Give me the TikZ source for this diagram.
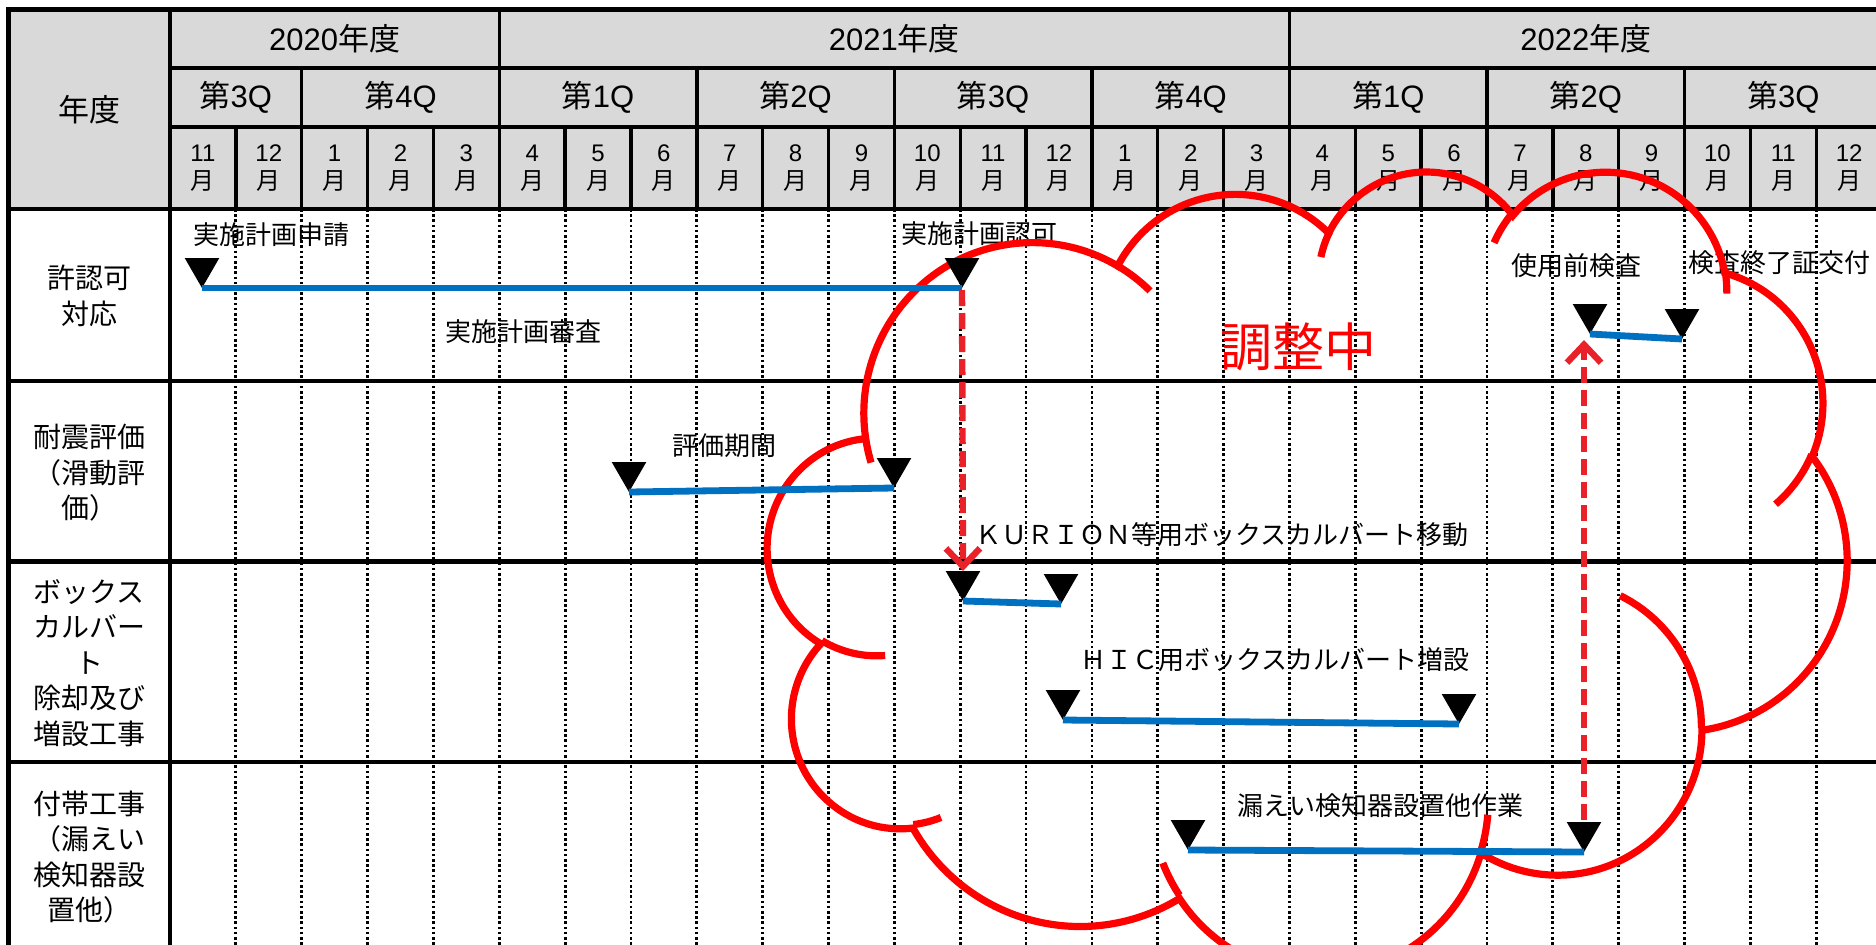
\documentclass[tikz,border=0pt]{standalone}
\usepackage{fontspec}
\setmainfont{Noto Sans CJK JP}
\newfontfamily\arialfont{Liberation Sans}
\usetikzlibrary{arrows.meta,shapes.geometric}
\definecolor{HeadGray}{RGB}{217,217,217}
\definecolor{BarBlue}{RGB}{0,112,192}
\definecolor{LinkRed}{RGB}{232,34,40}
\definecolor{CloudRed}{RGB}{255,0,0}

\begin{document}
\begin{tikzpicture}[x=0.5pt, y=-0.5pt,
    HeadStyle/.style = {font=\fontsize{15.5pt}{18pt}\selectfont, inner sep=0pt},
    MonthStyle/.style = {font=\fontsize{12pt}{14pt}\selectfont, align=center, inner sep=0pt},
    RowStyle/.style = {font=\fontsize{14pt}{17.8pt}\selectfont, align=center, inner sep=0pt},
    TaskStyle/.style = {font=\fontsize{13pt}{16pt}\selectfont, anchor=west, inner sep=0pt},
    MarkStyle/.style = {regular polygon, regular polygon sides=3, shape border rotate=180, fill=black, inner sep=0pt, outer sep=0pt, minimum size=20pt, anchor=corner 1},
    BarStyle/.style = {draw=BarBlue, line width=3.4pt},
    LinkStyle/.style = {draw=LinkRed, line width=3.2pt, dash pattern=on 8pt off 3.5pt},
    LinkTip/.style = {-{Straight Barb[length=9pt,width=17pt]}},
    GridStyle/.style = {line width=1.4pt, dash pattern=on 1.3pt off 1.3pt},
    RuleStyle/.style = {line width=2.2pt},
    HeadRule/.style = {line width=1.7pt},
    CloudStyle/.style = {draw=CloudRed, line width=3.6pt},
    CloudArc/.style n args={4}{/utils/exec={%
        \pgfmathsetmacro\CloudA{atan2((#1)*sin(#3),(#2)*cos(#3))}%
        \pgfmathsetmacro\CloudB{atan2((#1)*sin((#3)+(#4)),(#2)*cos((#3)+(#4)))}%
        \pgfmathsetmacro\CloudD{mod(\CloudB-\CloudA+720,360)}},
      start angle=\CloudA, delta angle=\CloudD, x radius=#1, y radius=#2}]
  \useasboundingbox (0,0) rectangle (1876,944);
  \clip (0,0) rectangle (1876,944);
  \fill[white] (0,0) rectangle (1876,944);
  \fill[HeadGray] (8.6,9.5) rectangle (1900,209);

  \foreach \k in {1,...,26}
    \draw[GridStyle] ({170+65.85*\k},209) -- ({170+65.85*\k},960);
  \foreach \k in {1,...,26}
    \draw[HeadRule] ({170+65.85*\k},127) -- ({170+65.85*\k},209);
  \foreach \k in {2,5,8,11,14,17,20,23}
    \draw[HeadRule] ({170+65.85*\k},68) -- ({170+65.85*\k},127);
  \foreach \k in {5,17}
    \draw[HeadRule] ({170+65.85*\k},9.5) -- ({170+65.85*\k},68);
  \draw[RuleStyle] (8.6,960) -- (8.6,9.5) -- (1900,9.5);
  \draw[RuleStyle] (170,9.5) -- (170,960);
  \draw[RuleStyle] (170,68) -- (1900,68) (170,127) -- (1900,127);
  \foreach \y in {209,381,561.5,762}
    \draw[RuleStyle] (8.6,\y) -- (1900,\y);

  \node[HeadStyle] (hNendo) at (89.3,110) {年度};
  \node[HeadStyle] (y2020) at (334.6,38.8) {{\arialfont 2020}年度};
  \node[HeadStyle] (y2021) at (894.4,38.8) {{\arialfont 2021}年度};
  \node[HeadStyle] (y2022) at (1585.8,38.8) {{\arialfont 2022}年度};
  \foreach \q/\c [count=\i] in {3/1,4/3.5,1/6.5,2/9.5,3/12.5,4/15.5,1/18.5,2/21.5,3/24.5}
    \node[HeadStyle] (q\i) at ({170+65.85*\c},97.5) {第{\arialfont\q Q}};
  \foreach \m [count=\i from 0] in {11,12,1,2,3,4,5,6,7,8,9,10,11,12,1,2,3,4,5,6,7,8,9,10,11,12}
    \node[MonthStyle] (m\i) at ({170+65.85*(\i+0.5)},168) {{\arialfont\m}\\月};

  \node[RowStyle] (rPermit) at (89.3,296) {許認可\\対応};
  \node[RowStyle] (rSeismic) at (89.3,473) {耐震評価\\（滑動評\\価）};
  \node[RowStyle] (rCulvert) at (89.3,663) {ボックス\\カルバー\\ト\\除却及び\\増設工事};
  \node[RowStyle] (rExtra) at (89.3,857) {付帯工事\\（漏えい\\検知器設\\置他）};

  \node[TaskStyle] (lApply) at (193,235) {実施計画申請};
  \node[TaskStyle] (lReview) at (445,332) {実施計画審査};
  \node[TaskStyle] (lPermit) at (901,234) {実施計画認可};
  \node[TaskStyle] (lEval) at (672,446) {評価期間};
  \node[TaskStyle] (lMove) at (975,535) {ＫＵＲＩＯＮ等用ボックスカルバート移動};
  \node[TaskStyle] (lAdd) at (1080,660) {ＨＩＣ用ボックスカルバート増設};
  \node[TaskStyle] (lLeak) at (1237,806) {漏えい検知器設置他作業};
  \node[TaskStyle] (lPre) at (1511,266) {使用前検査};
  \node[TaskStyle] (lCert) at (1688,263) {検査終了証交付};
  \node[font=\fontsize{26pt}{30pt}\selectfont, text=CloudRed, inner sep=0pt] (lAdjust) at (1298,347) {調整中};

  \begin{scope}[shift={(768,169.4)}, xscale=2.497, yscale=1.857, CloudStyle]
    \draw (39.00,143.70)
      arc[CloudArc={67.53}{91.90}{-190.4875}{123.7805}]
      arc[CloudArc={53.33}{72.67}{-144.1024}{89.9452}]
      arc[CloudArc={43.65}{59.45}{-145.8079}{99.7230}]
      arc[CloudArc={48.57}{65.95}{-130.9861}{117.2417}]
      arc[CloudArc={53.33}{72.73}{-78.7089}{109.0269}]
      arc[CloudArc={67.75}{92.20}{-46.2673}{130.2690}]
      arc[CloudArc={57.85}{78.67}{0.6250}{114.0333}]
      arc[CloudArc={67.52}{92.15}{22.4516}{115.1726}]
      arc[CloudArc={77.20}{105.43}{66.2426}{75.7110}]
      arc[CloudArc={43.60}{59.18}{-274.9421}{146.7356}]
      arc[CloudArc={43.45}{59.45}{-246.8285}{152.5189}] -- cycle;
    \draw (46.93,261.77) arc[CloudArc={43.45}{59.45}{86.7420}{26.4295}]
      (69.28,348.99) arc[CloudArc={43.60}{59.18}{73.6105}{11.4475}]
      (164.78,390.90) arc[CloudArc={67.52}{92.15}{137.6242}{14.0811}]
      (288.27,347.51) arc[CloudArc={67.52}{92.15}{6.4533}{15.9984}]
      (341.29,229.54) arc[CloudArc={57.85}{78.67}{-70.2924}{70.9174}]
      (417.98,153.54) arc[CloudArc={53.33}{72.73}{30.3180}{27.7515}]
      (383.24,54.26) arc[CloudArc={48.57}{65.95}{-13.7443}{14.8589}]
      (290.78,39.52) arc[CloudArc={48.57}{65.95}{-149.1815}{18.1954}]
      (221.41,47.20) arc[CloudArc={43.65}{59.45}{-163.4943}{17.6864}]
      (140.00,51.92) arc[CloudArc={67.53}{91.90}{-66.7070}{12.3194}]
      (41.27,157.89) arc[CloudArc={67.53}{91.90}{157.6544}{11.8582}];
  \end{scope}

  \node[MarkStyle] (t1) at (202,288) {};
  \node[MarkStyle] (t2) at (962,288) {};
  \node[MarkStyle] (t3) at (629,492) {};
  \node[MarkStyle] (t4) at (894,488) {};
  \node[MarkStyle] (t5) at (963,601) {};
  \node[MarkStyle] (t6) at (1061,604) {};
  \node[MarkStyle] (t7) at (1063,720) {};
  \node[MarkStyle] (t8) at (1459,724) {};
  \node[MarkStyle] (t9) at (1188,850) {};
  \node[MarkStyle] (t10) at (1584,852) {};
  \node[MarkStyle] (t11) at (1590,334) {};
  \node[MarkStyle] (t12) at (1682,339) {};

  \path[BarStyle]
    (t1.corner 1) edge (t2.corner 1)
    (t3.corner 1) edge (t4.corner 1)
    (t5.corner 1) edge (t6.corner 1)
    (t7.corner 1) edge (t8.corner 1)
    (t9.corner 1) edge (t10.corner 1)
    (t11.corner 1) edge (t12.corner 1)
  ;
  \path[LinkStyle]
    ([yshift=-1pt]t2.corner 1) edge[LinkTip] (t5.north)
    ([yshift=1pt]t10.north) edge[LinkTip, shorten >=3pt] (t10.north |- t11.corner 1)
  ;
\end{tikzpicture}
\end{document}
